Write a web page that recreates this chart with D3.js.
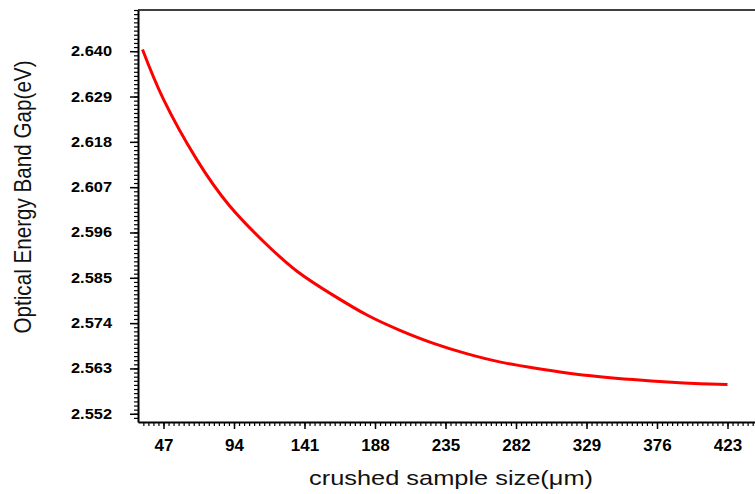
<!DOCTYPE html>
<html>
<head>
<meta charset="utf-8">
<script src="https://cdn.jsdelivr.net/npm/d3@7"></script>
<style>
  body { margin: 0; background: #fff; }
  svg { display: block; font-family: "Liberation Sans", Arial, sans-serif; }
  .axis path, .axis line { stroke: #000; }
</style>
</head>
<body>
<svg id="chart" width="755" height="494"></svg>
<script>
// values
var sizes = [33, 47, 69, 91, 114, 136, 160, 183, 205, 227, 249, 271, 294, 316, 338, 360, 383, 405, 423];
var gaps = [2.6404, 2.6283, 2.6138, 2.6025, 2.5937, 2.5866, 2.5808, 2.5759, 2.5722, 2.5691,
            2.5666, 2.5646, 2.5631, 2.5619, 2.5610, 2.5603, 2.5597, 2.5593, 2.5591];
var xTicks = [47, 94, 141, 188, 235, 282, 329, 376, 423];
var yTicks = [2.552, 2.563, 2.574, 2.585, 2.596, 2.607, 2.618, 2.629, 2.640];

var svg = d3.select("#chart");

var x = d3.scaleLinear().domain([30, 450]).range([138, 768]);
var y = d3.scaleLinear().domain([2.55, 2.65]).range([422, 10]);

// minor ticks: 14 per major step on x, 0.001 on y
var xMinor = d3.range(-10, 140).map(function (i) { return 47 + i * 47 / 14; })
    .filter(function (v) { return v > 30.5 && v <= 450; });
var yMinor = d3.range(-5, 105).map(function (i) { return 2.552 + i * 0.001; })
    .filter(function (v) { return v >= 2.5505 && v <= 2.6501; });

svg.append("g")
    .attr("class", "axis")
    .attr("transform", "translate(0,422)")
    .call(d3.axisBottom(x).tickValues(xMinor).tickSize(4).tickFormat(""))
    .call(function (g) { g.select(".domain").remove(); })
    .selectAll("line").attr("stroke-width", 1.2);

svg.append("g")
    .attr("class", "axis")
    .attr("transform", "translate(138,0)")
    .call(d3.axisLeft(y).tickValues(yMinor).tickSize(4).tickFormat(""))
    .call(function (g) { g.select(".domain").remove(); })
    .selectAll("line").attr("stroke-width", 1.2);

var xAxis = svg.append("g")
    .attr("class", "axis")
    .attr("transform", "translate(0,422)")
    .call(d3.axisBottom(x).tickValues(xTicks).tickSize(7).tickSizeOuter(0).tickPadding(10).tickFormat(d3.format("d")));
xAxis.select(".domain").attr("stroke-width", 2);
xAxis.selectAll("line").attr("stroke-width", 1.5);
xAxis.selectAll("text")
    .attr("fill", "#000")
    .style("font-size", "17px")
    .style("font-weight", "bold");

var yAxis = svg.append("g")
    .attr("class", "axis")
    .attr("transform", "translate(138,0)")
    .call(d3.axisLeft(y).tickValues(yTicks).tickSize(8).tickSizeOuter(0).tickPadding(18).tickFormat(d3.format(".3f")));
yAxis.select(".domain").attr("stroke-width", 2);
yAxis.selectAll("line").attr("stroke-width", 1.5);
yAxis.selectAll("text")
    .attr("fill", "#000")
    .attr("textLength", 41)
    .attr("lengthAdjust", "spacingAndGlyphs")
    .style("font-size", "14px")
    .style("font-weight", "bold");

// top frame line
svg.append("line")
    .attr("x1", x(30)).attr("x2", 755)
    .attr("y1", y(2.65)).attr("y2", y(2.65))
    .attr("stroke", "#000").attr("stroke-width", 1.5);

// curve
var line = d3.line()
    .x(function (d, i) { return x(sizes[i]); })
    .y(function (d) { return y(d); })
    .curve(d3.curveNatural);

svg.append("path")
    .datum(gaps)
    .attr("d", line)
    .attr("fill", "none")
    .attr("stroke", "#ff0000")
    .attr("stroke-width", 3);

// axis titles
svg.append("text")
    .attr("x", 451)
    .attr("y", 485)
    .attr("text-anchor", "middle")
    .attr("textLength", 284)
    .attr("lengthAdjust", "spacingAndGlyphs")
    .style("font-size", "21px")
    .attr("fill", "#111")
    .text("crushed sample size(\u03bcm)");

svg.append("text")
    .attr("transform", "translate(31,197) rotate(-90) scale(1,1.2)")
    .attr("text-anchor", "middle")
    .attr("textLength", 273)
    .attr("lengthAdjust", "spacingAndGlyphs")
    .style("font-size", "20px")
    .attr("fill", "#111")
    .text("Optical Energy Band Gap(eV)");
</script>
</body>
</html>
